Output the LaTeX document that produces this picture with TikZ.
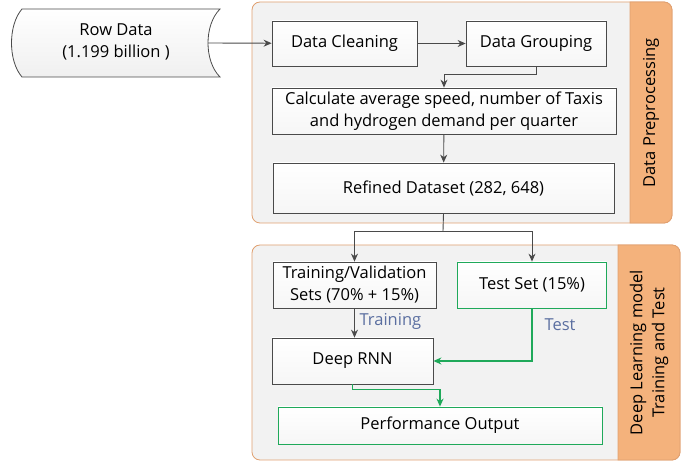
\documentclass[tikz,border=0pt]{standalone}
\usepackage{fontspec}
\setmainfont{Open Sans}
\usepackage{tikz}
\usetikzlibrary{arrows,arrows.meta,positioning,calc}
\definecolor{boxline}{HTML}{4A4A4A}
\definecolor{panelfill}{HTML}{F2F2F2}
\definecolor{panelline}{HTML}{E0A070}
\definecolor{stripfill}{HTML}{F4B27C}
\definecolor{arrowgreen}{HTML}{1FA95A}
\definecolor{labelblue}{HTML}{5A6EA0}

\begin{document}
\begin{tikzpicture}[x=1pt, y=-1pt, ->, >={Stealth[length=8pt,width=7pt]}, semithick, font=\fontsize{16.5}{22}\selectfont]
\tikzstyle{step box}=[draw=boxline, thick, top color=white, bottom color=gray!7, align=center, inner sep=2pt]
\tikzstyle{green box}=[step box, draw=arrowgreen]
\tikzstyle{panel}=[draw=panelline, thick, fill=panelfill, rounded corners=8pt]
\tikzstyle{strip}=[fill=stripfill, draw=panelline, thick]
\tikzstyle{flow}=[draw=boxline, line width=0.9pt]
\tikzstyle{green flow}=[draw=arrowgreen, line width=1.6pt]
\useasboundingbox (0,0) rectangle (697,462);
\path[-] [panel] (252,2) rectangle (672,223);
\path[-] [strip] (630,2) -- (664,2) arc[start angle=-90, end angle=0, radius=8] -- (672,215) arc[start angle=0, end angle=90, radius=8] -- (630,223) -- cycle;
\path[-] [panel] (252,245) rectangle (680,460);
\path[-] [strip] (618,245) -- (672,245) arc[start angle=-90, end angle=0, radius=8] -- (680,452) arc[start angle=0, end angle=90, radius=8] -- (618,460) -- cycle;
\node[rotate=90] (prep)  at (651,113) {Data Preprocessing};
\node[rotate=90, align=center] (dltest) at (649,352.5) {Deep Learning model\\Training and Test};
\draw[-, draw=boxline, thick, top color=white, bottom color=gray!12]
  (22,9) -- (220,9) .. controls (204,25) and (204,61) .. (220,77)
  -- (22,77) .. controls (8,61) and (8,25) .. (22,9) -- cycle;
\node[align=center] (rowdata) at (116,42) {Row Data\\(1.199 billion )};
\coordinate (rowout) at (208,43);
\node[step box, minimum width=145pt, minimum height=45pt] (cleaning) at (344.5,43.5) {Data Cleaning};
\node[step box, minimum width=140pt, minimum height=45pt] (grouping) at (536,43.5) {Data Grouping};
\node[step box, minimum width=344pt, minimum height=46pt] (calc) at (444,111) {Calculate average speed, number of Taxis\\and hydrogen demand per quarter};
\node[step box, minimum width=341pt, minimum height=50pt] (refined) at (443.5,188) {Refined Dataset (282, 648)};
\coordinate (split) at (443,231);
\node[step box, minimum width=163pt, minimum height=46pt] (train) at (354.5,285) {Training/Validation\\Sets (70\% + 15\%)};
\node[green box, minimum width=149pt, minimum height=46pt] (test) at (532,285) {Test Set (15\%)};
\node[step box, minimum width=161pt, minimum height=46pt] (rnn) at (352.5,361) {Deep RNN};
\node[green box, minimum width=324pt, minimum height=37pt] (perf) at (440,425.5) {Performance Output};
\node[text=labelblue, anchor=west] (trainlbl) at (356,321) {Training};
\node[text=labelblue, anchor=west] (testlbl) at (541,325) {Test};
\draw[flow] (rowout) -- (cleaning);
\draw[flow] (cleaning) -- (grouping);
\draw[flow] (grouping.south) -- ++(0,8) -| (calc.north);
\draw[flow] (calc) -- (refined);
\draw[flow, -] (refined.south) -- (split);
\draw[flow] (split) -| (train);
\draw[flow] (split) -| (test);
\draw[flow] (train) -- (train |- rnn.north);
\draw[green flow] (test.south) |- (rnn.east);
\draw[green flow] (rnn.south) -- ++(0,5) -| (perf.north);
\end{tikzpicture}
\end{document}
